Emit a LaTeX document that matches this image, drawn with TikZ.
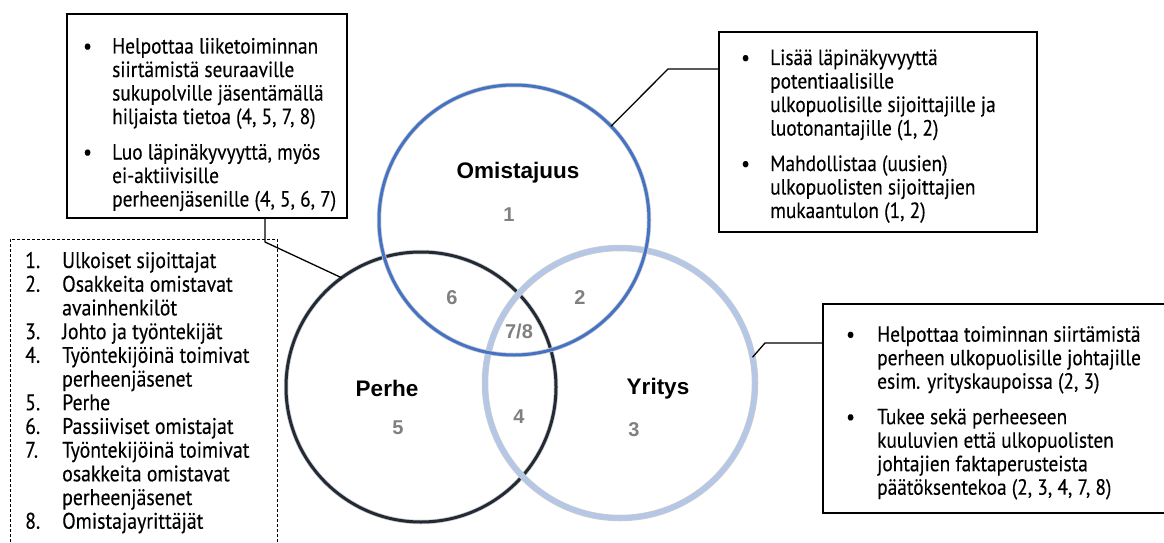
\documentclass[tikz,border=0pt]{standalone}
\usepackage{fontspec}
\setmainfont{PT Sans}[FakeStretch=0.88,FakeBold=0.3]
\newfontfamily\arialfont{Liberation Sans}
\usepackage{array}
\definecolor{omblue}{HTML}{4472C4}
\definecolor{perhedark}{HTML}{222A35}
\definecolor{yrlight}{HTML}{B4C7E7}
\definecolor{numgray}{HTML}{808080}

\begin{document}
\begin{tikzpicture}[x=1pt,y=-1pt,
  venn/.style={circle,minimum size=270pt,inner sep=0pt,outer sep=0pt},
  infobox/.style={draw,line width=1.5pt,inner sep=0pt,outer sep=0pt},
  bodytext/.style={inner sep=0pt,anchor=base west,font=\fontsize{22}{23.5}\selectfont},
  circlabel/.style={inner sep=0pt,anchor=base,font=\arialfont\bfseries\fontsize{22.5}{24}\selectfont},
  numlabel/.style={inner sep=0pt,anchor=base,text=numgray,font=\arialfont\bfseries\fontsize{20}{22}\selectfont},
  link/.style={line width=1.3pt}]
\useasboundingbox (0,0) rectangle (1164,543);
\clip (0,0) rectangle (1164,543);

%circles
\node[venn,draw=perhedark,line width=3pt,preaction={draw=black!20,line width=4.5pt}] (perhe) at (421,387) {};
\node[venn,draw=yrlight,line width=5pt,preaction={draw=black!20,line width=6.5pt}] (yritys) at (620,383) {};
\node[venn,draw=omblue,line width=3pt,preaction={draw=black!20,line width=4.5pt}] (omist) at (514,220) {};

%labels in the circles
\node[circlabel] (lomist) at (518,178) {Omistajuus};
\node[circlabel] (lperhe) at (387,396) {Perhe};
\node[circlabel] (lyritys) at (658,394) {Yritys};
\node[numlabel] (n1) at (509,221) {1};
\node[numlabel] (n6) at (452,304) {6};
\node[numlabel] (n2) at (580,304) {2};
\node[numlabel] (n78) at (519,338) {7/8};
\node[numlabel] (n5) at (398,434) {5};
\node[numlabel] (n4) at (519,423) {4};
\node[numlabel] (n3) at (634,436) {3};

%boxes
\node[infobox,minimum width=280pt,minimum height=204pt] (boxA) at (207,116) {};
\node[infobox,minimum width=318pt,minimum height=200pt] (boxB) at (878,132) {};
\node[infobox,minimum width=368pt,minimum height=209pt] (boxC) at (1007,408.5) {};
\node[draw,line width=0.8pt,dash pattern=on 3pt off 2pt,inner sep=0pt,minimum width=267pt,minimum height=321pt] (listbox) at (143.5,399.5) {};

%texts in the boxes
\node[bodytext] (txtA) at (83,53.5) {\begin{tabular}[t]{@{}p{29pt}@{}l@{}}
\textbullet & Helpottaa liiketoiminnan\\
 & siirtämistä seuraaville\\
 & sukupolville jäsentämällä\\
 & hiljaista tietoa (4, 5, 7, 8)\\[12pt]
\textbullet & Luo läpinäkyvyyttä, myös\\
 & ei-aktiivisille\\
 & perheenjäsenille (4, 5, 6, 7)
\end{tabular}};
\node[bodytext] (txtB) at (741,65) {\begin{tabular}[t]{@{}p{29pt}@{}l@{}}
\textbullet & Lisää läpinäkyvyyttä\\
 & potentiaalisille\\
 & ulkopuolisille sijoittajille ja\\
 & luotonantajille (1, 2)\\[12pt]
\textbullet & Mahdollistaa (uusien)\\
 & ulkopuolisten sijoittajien\\
 & mukaantulon (1, 2)
\end{tabular}};
\node[bodytext] (txtC) at (846,341.7) {\begin{tabular}[t]{@{}p{31pt}@{}l@{}}
\textbullet & Helpottaa toiminnan siirtämistä\\
 & perheen ulkopuolisille johtajille\\
 & esim. yrityskaupoissa (2, 3)\\[12pt]
\textbullet & Tukee sekä perheeseen\\
 & kuuluvien että ulkopuolisten\\
 & johtajien faktaperusteista\\
 & päätöksentekoa (2, 3, 4, 7, 8)
\end{tabular}};
\node[bodytext,font=\fontsize{22.5}{23.7}\selectfont] (txtD) at (25,268) {\begin{tabular}[t]{@{}p{37pt}@{}l@{}}
1. & Ulkoiset sijoittajat\\
2. & Osakkeita omistavat\\
 & avainhenkilöt\\
3. & Johto ja työntekijät\\
4. & Työntekijöinä toimivat\\
 & perheenjäsenet\\
5. & Perhe\\
6. & Passiiviset omistajat\\
7. & Työntekijöinä toimivat\\
 & osakkeita omistavat\\
 & perheenjäsenet\\
8. & Omistajayrittäjät
\end{tabular}};

%connectors
\coordinate (bendA) at (265,242);
\coordinate (bendB) at (668,69);
\coordinate (bendC) at (765,343);
\draw[link] (boxA.south -| bendA) -- (bendA) -- (perhe.126);
\draw[link] (boxB.west |- bendB) -- (bendB) -- (omist.44);
\draw[link] (boxC.west |- bendC) -- (bendC) -- (yritys.11);
\end{tikzpicture}
\end{document}
